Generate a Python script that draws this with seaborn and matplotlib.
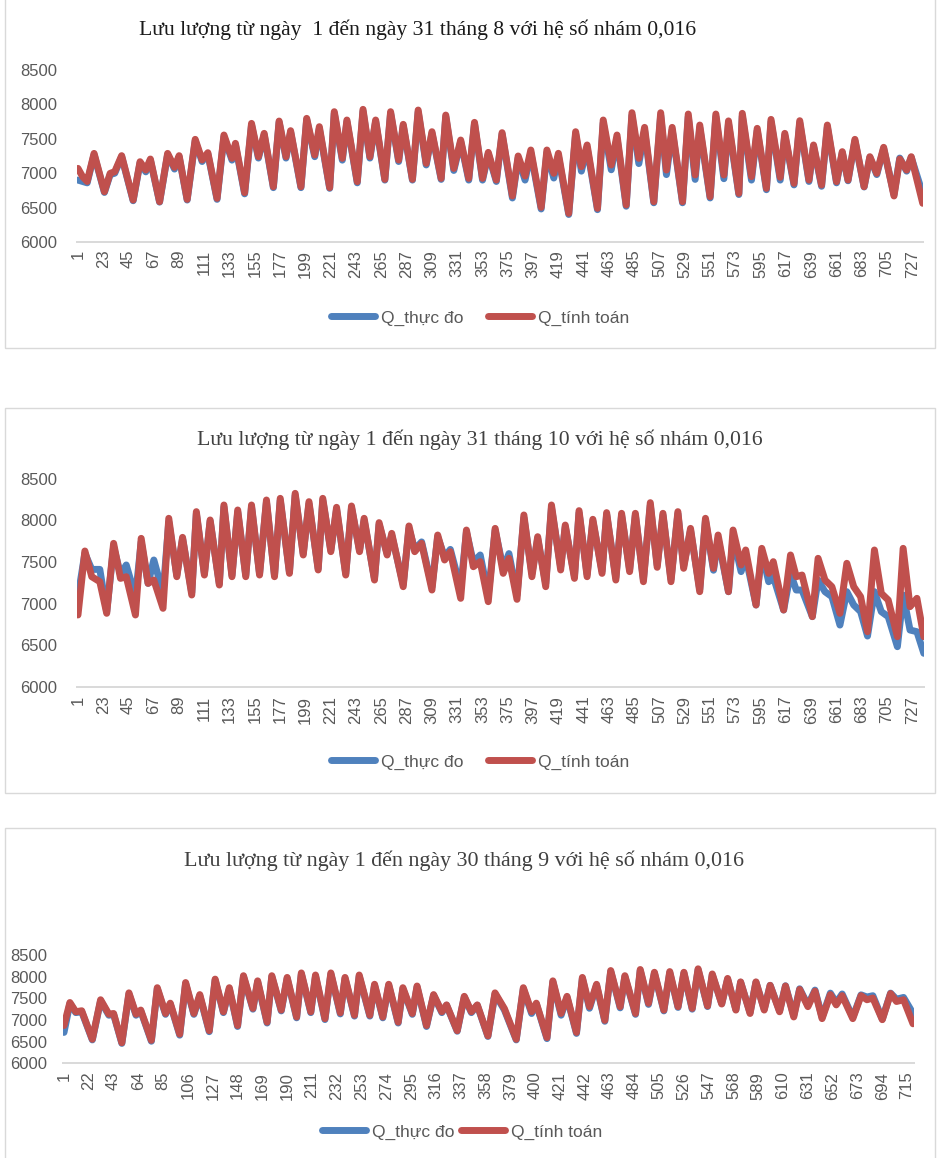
import matplotlib
matplotlib.use("Agg")
import matplotlib.pyplot as plt
import seaborn as sns
import pandas as pd
from matplotlib.patches import Rectangle
from matplotlib.lines import Line2D

# ---------------- data (hour index, discharge m3/s) ----------------
# Panel 1: August
h1 = [1, 5, 9, 15, 24, 29, 33, 39, 49, 55, 60, 64, 72, 79, 85, 89, 96, 103, 109, 114,
      122, 128, 135, 138, 146, 152, 158, 163, 171, 176,
      182, 186, 195, 200, 207, 211, 220, 224, 231, 235, 244, 249, 255, 260, 268, 273, 280, 284, 292, 297,
      304, 309, 317, 321, 328, 334, 341, 346, 353, 358, 365, 370,
      379, 384, 390, 395, 404, 409, 415, 419, 428, 434, 439, 444, 453, 458, 465, 470, 478, 483, 489, 494,
      502, 508, 513, 518, 527, 532, 538, 542, 551, 556, 563, 567,
      576, 579, 587, 592, 600, 604, 612, 616, 624, 629, 637, 641, 648, 653, 661, 666, 671, 677, 685, 690,
      696, 702, 711, 716, 722, 726, 736]
q1_thuc_do = [6900, 6880, 6860, 7270, 6720, 6980, 7000, 7240, 6600, 7150, 7020, 7190, 6580, 7270, 7060, 7240, 6610, 7470, 7170, 7280,
              6620, 7530, 7190, 7410, 6700, 7700, 7220, 7560, 6790, 7740,
              7220, 7600, 6790, 7780, 7240, 7650, 6780, 7870, 7190, 7750, 6860, 7900, 7220, 7750, 6900, 7870, 7170, 7690, 6900, 7890,
              7120, 7580, 6910, 7820, 7040, 7460, 6900, 7720, 6900, 7280, 6880, 7570,
              6640, 7220, 6900, 7300, 6480, 7300, 6930, 7250, 6400, 7570, 7030, 7370, 6470, 7730, 7050, 7510, 6520, 7840, 7140, 7620,
              6570, 7840, 6980, 7630, 6570, 7820, 6910, 7660, 6640, 7820, 6920, 7720,
              6690, 7830, 6900, 7620, 6760, 7750, 6900, 7550, 6830, 7730, 6880, 7390, 6810, 7670, 6860, 7300, 6890, 7470, 6800, 7230,
              6980, 7360, 6690, 7220, 7030, 7230, 6700]
q1_tinh_toan = [7070, 6950, 6880, 7288, 6731, 6998, 7022, 7255, 6610, 7167, 7046, 7206, 6586, 7288, 7085, 7255, 6620, 7492, 7192, 7298,
                6635, 7555, 7216, 7434, 6717, 7724, 7240, 7579, 6804, 7758,
                7240, 7618, 6804, 7797, 7264, 7676, 6790, 7894, 7216, 7773, 6877, 7928, 7240, 7773, 6911, 7894, 7192, 7710, 6911, 7918,
                7143, 7603, 6925, 7845, 7070, 7482, 6925, 7739, 6925, 7303, 6901, 7589,
                6669, 7250, 6959, 7337, 6504, 7337, 6998, 7289, 6417, 7603, 7095, 7410, 6489, 7773, 7119, 7555, 6538, 7879, 7216, 7666,
                6586, 7879, 7046, 7666, 6586, 7860, 6974, 7700, 6659, 7860, 6974, 7760,
                6707, 7870, 6950, 7652, 6780, 7782, 6940, 7579, 6852, 7763, 6901, 7410, 6828, 7700, 6877, 7313, 6901, 7492, 6804, 7240,
                6998, 7376, 6669, 7206, 7046, 7240, 6562]

# Panel 2: October
h2 = [1, 7, 13, 20, 26, 32, 38, 43, 51, 56, 62, 67, 75, 80, 87, 92, 100, 104, 111, 116,
      124, 128, 135, 140, 147, 152, 159, 165, 172, 177,
      185, 190, 197, 202, 210, 214, 221, 226, 234, 239, 246, 250, 259, 263, 270, 274, 284, 289, 294, 300,
      309, 314, 320, 325, 334, 339, 345, 351, 358, 364, 371, 376,
      383, 389, 396, 401, 408, 413, 421, 425, 433, 437, 444, 449, 457, 461, 469, 474, 481, 486, 493, 499,
      505, 510, 517, 523, 528, 534, 542, 547, 554, 558, 567,
      571, 578, 582, 591, 596, 602, 606, 615, 621, 626, 631, 640, 645, 651, 657, 664, 670, 676, 682, 688,
      694, 700, 706, 714, 719, 725, 731, 737]
q2_thuc_do = [7082, 7603, 7410, 7410, 6900, 7683, 7350, 7463, 7082, 7740, 7242, 7523, 7122, 7980, 7340, 7780, 7130, 8080, 7360, 7990,
              7240, 8160, 7340, 8100, 7340, 8160, 7360, 8220, 7340, 8240,
              7380, 8300, 7600, 8200, 7420, 8240, 7640, 8130, 7360, 8150, 7640, 8000, 7300, 7950, 7600, 7820, 7230, 7900, 7650, 7740,
              7200, 7800, 7560, 7650, 7180, 7860, 7500, 7583, 7100, 7880, 7420, 7600,
              7100, 8030, 7360, 7780, 7240, 8150, 7440, 7920, 7330, 8090, 7350, 7990, 7390, 8070, 7310, 8060, 7410, 8060, 7290, 8180,
              7460, 8060, 7290, 8080, 7450, 7880, 7170, 8000, 7400, 7780, 7142,
              7803, 7383, 7563, 6982, 7623, 7262, 7322, 6922, 7362, 7162, 7162, 6842, 7282, 7142, 7082, 6741, 7142, 6982, 6902, 6609,
              7142, 6902, 6842, 6481, 7102, 6681, 6661, 6401]
q2_tinh_toan = [6862, 7631, 7322, 7262, 6882, 7723, 7302, 7322, 6862, 7783, 7242, 7282, 6942, 8024, 7322, 7795, 7102, 8104, 7342, 8004,
                7222, 8184, 7322, 8124, 7322, 8184, 7342, 8244, 7322, 8264,
                7362, 8324, 7583, 8224, 7403, 8264, 7623, 8156, 7342, 8172, 7623, 8024, 7282, 7972, 7583, 7843, 7202, 7932, 7623, 7723,
                7162, 7823, 7523, 7623, 7062, 7883, 7442, 7503, 7022, 7903, 7362, 7543,
                7050, 8064, 7322, 7803, 7202, 8184, 7403, 7943, 7302, 8116, 7322, 8012, 7362, 8092, 7282, 8084, 7383, 8084, 7262, 8212,
                7435, 8084, 7262, 8104, 7423, 7903, 7142, 8024, 7423, 7823, 7142,
                7883, 7463, 7643, 6982, 7663, 7362, 7503, 6922, 7583, 7322, 7342, 6842, 7543, 7282, 7202, 6882, 7483, 7202, 7082, 6661,
                7643, 7122, 7042, 6601, 7663, 6962, 7062, 6601]

# Panel 3: September
h3 = [1, 6, 11, 16, 25, 32, 39, 43, 50, 56, 62, 66, 75, 80, 87, 91, 99, 104, 111, 116,
      124, 129, 136, 141, 148, 153, 161, 165, 173, 177, 185,
      190, 198, 202, 210, 214, 222, 227, 235, 239, 247, 251, 260, 264, 271, 276, 284, 288, 296, 300, 308,
      314, 321, 325, 334, 340, 346, 351, 360, 366,
      374, 384, 390, 397, 401, 410, 415, 422, 427, 435, 440, 446, 452, 459, 464, 472, 476, 485, 489, 496,
      501, 509, 514, 521, 526, 533, 538, 546, 550, 558,
      563, 570, 574, 582, 587, 594, 599, 607, 612, 619, 624, 631, 637, 643, 650, 655, 660, 669, 676, 681,
      686, 694, 701, 706, 712, 720]
q3_thuc_do = [6713, 7380, 7170, 7190, 6540, 7440, 7110, 7130, 6460, 7600, 7110, 7210, 6510, 7720, 7130, 7370, 6650, 7840, 7130, 7560,
              6730, 7920, 7170, 7720, 6850, 8000, 7250, 7880, 6930, 8000, 7210,
              7960, 7050, 8060, 7170, 8010, 7010, 8060, 7140, 7960, 7090, 8010, 7090, 7800, 7050, 7800, 6930, 7720, 7130, 7760, 6850,
              7570, 7170, 7340, 6740, 7530, 7170, 7340, 6620, 7600,
              7230, 6540, 7720, 7150, 7370, 6570, 7880, 7110, 7520, 6690, 7960, 7270, 7800, 6970, 8120, 7280, 8000, 7130, 8140, 7360,
              8080, 7210, 8090, 7290, 8080, 7250, 8160, 7310, 8040, 7380,
              7940, 7240, 7870, 7170, 7870, 7250, 7800, 7210, 7790, 7100, 7720, 7340, 7690, 7060, 7620, 7400, 7600, 7060, 7580, 7530,
              7560, 7020, 7620, 7480, 7520, 7150]
q3_tinh_toan = [6872, 7403, 7189, 7213, 6555, 7467, 7134, 7150, 6475, 7626, 7134, 7229, 6531, 7745, 7150, 7388, 6674, 7864, 7150, 7586,
                6753, 7943, 7189, 7745, 6872, 8022, 7269, 7903, 6951, 8022, 7229,
                7982, 7070, 8086, 7189, 8038, 7031, 8086, 7165, 7982, 7110, 8038, 7110, 7824, 7070, 7824, 6951, 7745, 7150, 7784, 6872,
                7586, 7189, 7348, 6753, 7546, 7189, 7348, 6634, 7626,
                7260, 6555, 7745, 7189, 7388, 6594, 7903, 7150, 7546, 6713, 7982, 7308, 7824, 6991, 8141, 7308, 8022, 7150, 8165, 7388,
                8101, 7229, 8117, 7308, 8101, 7269, 8181, 7324, 8062, 7368,
                7959, 7229, 7879, 7150, 7879, 7229, 7800, 7189, 7784, 7070, 7705, 7308, 7665, 7031, 7586, 7348, 7562, 7031, 7562, 7467,
                7507, 7007, 7610, 7427, 7467, 6912]

ticks_31 = list(range(1, 728, 22))
ticks_30 = list(range(1, 716, 21))
y_ticks = [6000, 6500, 7000, 7500, 8000, 8500]
series_names = ["Q_thực đo", "Q_tính toán"]
titles = ["Lưu lượng từ ngày  1 đến ngày 31 tháng 8 với hệ số nhám 0,016",
          "Lưu lượng từ ngày 1 đến ngày 31 tháng 10 với hệ số nhám 0,016",
          "Lưu lượng từ ngày 1 đến ngày 30 tháng 9 với hệ số nhám 0,016"]

# ---------------- style ----------------
sns.set_theme(style="white")
plt.rcParams['font.family'] = ['Liberation Sans', 'DejaVu Sans']

W, H = 938, 1158
fig = plt.figure(figsize=(W / 100, H / 100), dpi=100)
BLUE = '#4F81BD'
RED = '#C0504D'
FRAME = '#D9D9D9'
TXT = '#595959'
LW = 5.0


def fig_xy(x, y):
    return x / W, 1 - y / H


def add_frame(x0, y0, x1, y1):
    r = Rectangle(fig_xy(x0, y1), (x1 - x0) / W, (y1 - y0) / H, transform=fig.transFigure,
                  fill=False, ec=FRAME, lw=1.0)
    fig.add_artist(r)


panels = [
    dict(h=h1, m=q1_thuc_do, c=q1_tinh_toan, frame=(5, -2, 935, 348), box=(77.4, 70, 923.3, 242),
         xmax=736.5, ticks=ticks_31, title_xy=(418, 30), title_color='#1a1a1a', title_size=15.6,
         legend_xy=(480, 318), ypad=14.5, xpad=5.5, colsp=1.45),
    dict(h=h2, m=q2_thuc_do, c=q2_tinh_toan, frame=(5, 408, 935, 793), box=(77.4, 478.7, 924.4, 686.7),
         xmax=737.5, ticks=ticks_31, title_xy=(480, 440), title_color='#404040', title_size=15.7,
         legend_xy=(480, 762), ypad=14.5, xpad=6.5, colsp=1.45),
    dict(h=h3, m=q3_thuc_do, c=q3_tinh_toan, frame=(5, 828, 935, 1165), box=(63.4, 955, 913.6, 1063.3),
         xmax=720.5, ticks=ticks_30, title_xy=(464, 861), title_color='#404040', title_size=15.8,
         legend_xy=(462, 1132), ypad=11.5, xpad=6.0, colsp=0.4),
]

for i, p in enumerate(panels):
    add_frame(*p['frame'])
    x0, y0, x1, y1 = p['box']
    ax = fig.add_axes([x0 / W, 1 - y1 / H, (x1 - x0) / W, (y1 - y0) / H])
    df = pd.DataFrame({'gio': p['h'], series_names[0]: p['m'], series_names[1]: p['c']})
    sns.lineplot(data=df, x='gio', y=series_names[0], ax=ax, color=BLUE, lw=LW,
                 estimator=None, solid_joinstyle='round', solid_capstyle='round')
    sns.lineplot(data=df, x='gio', y=series_names[1], ax=ax, color=RED, lw=LW,
                 estimator=None, solid_joinstyle='round', solid_capstyle='round')
    ax.set_xlim(0.5, p['xmax'])
    ax.set_ylim(6000, 8500)
    ax.set_yticks(y_ticks)
    ax.set_yticklabels([str(v) for v in y_ticks])
    ax.set_xticks(p['ticks'])
    ax.set_xticklabels([str(t) for t in p['ticks']], rotation=90)
    ax.set_xlabel('')
    ax.set_ylabel('')
    for s in ['top', 'right', 'left']:
        ax.spines[s].set_visible(False)
    ax.spines['bottom'].set_color(FRAME)
    ax.spines['bottom'].set_linewidth(1.4)
    ax.tick_params(axis='y', length=0, pad=p['ypad'], labelsize=12, labelcolor=TXT)
    ax.tick_params(axis='x', length=0, pad=p['xpad'], labelsize=12, labelcolor=TXT)
    ax.set_facecolor('none')
    ax.grid(False)
    tx, ty = fig_xy(*p['title_xy'])
    fig.text(tx, ty, titles[i], ha='center', va='center', fontsize=p['title_size'],
             family=['Liberation Serif', 'DejaVu Serif'], color=p['title_color'])
    lx, ly = fig_xy(*p['legend_xy'])
    handles = [Line2D([], [], color=BLUE, lw=LW), Line2D([], [], color=RED, lw=LW)]
    fig.legend(handles, series_names, loc='center', bbox_to_anchor=(lx, ly), ncol=2, frameon=False,
               fontsize=12.5, handlelength=2.55, handletextpad=0.3, columnspacing=p['colsp'], labelcolor=TXT)

fig.savefig('out.png', dpi=100, facecolor='white')
